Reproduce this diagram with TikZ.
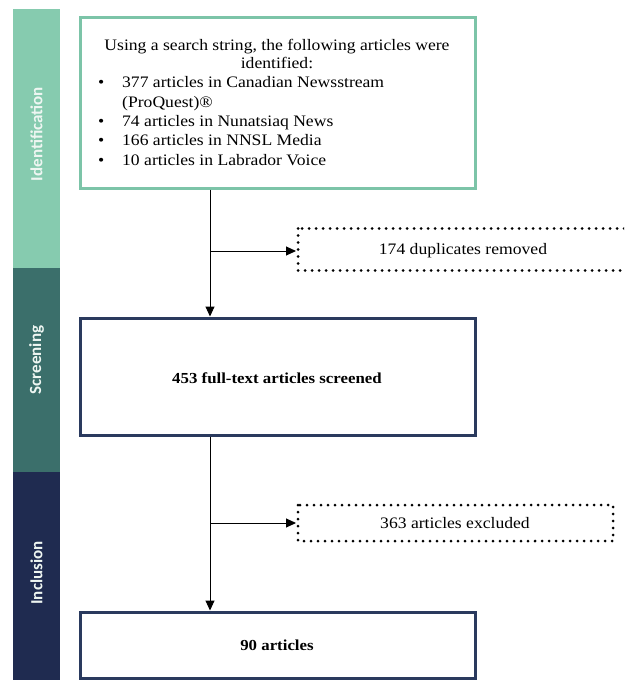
\documentclass[tikz,border=0pt]{standalone}
\usepackage{fontspec}
\setmainfont[FakeStretch=1.1]{Liberation Serif}
\newfontfamily\barfont{Carlito}
\usetikzlibrary{arrows.meta}
\definecolor{idgreen}{HTML}{86CBAF}
\definecolor{scteal}{HTML}{3B6F6B}
\definecolor{innavy}{HTML}{1F2B50}
\definecolor{boxgreen}{HTML}{7CC4A8}
\definecolor{boxnavy}{HTML}{2A3A5E}
\definecolor{labtext}{HTML}{EEF6F2}
\tikzset{
  barlabel/.style={rotate=90, text=labtext, font=\barfont\bfseries\fontsize{17}{19}\selectfont},
  mainbox/.style={draw, line width=3pt, fill=white},
  dotbox/.style={draw, line width=3pt, line cap=round, dash pattern=on 0pt off 7pt},
  conn/.style={line width=1pt, -{Triangle[length=10pt,width=9pt]}},
  txt/.style={font=\fontsize{16}{19.3}\selectfont, inner sep=0pt},
  boldtxt/.style={font=\bfseries\fontsize{15.3}{18}\selectfont, inner sep=0pt}
}
\begin{document}
\begin{tikzpicture}[x=1pt,y=-1pt]
\useasboundingbox (0,0) rectangle (624,680);
\clip (0,0) rectangle (624,680);
% side bars
\fill[idgreen] (13,9) rectangle (60,268);
\fill[scteal] (13,268) rectangle (60,472);
\fill[innavy] (13,472) rectangle (60,682);
\node[barlabel] (lid) at (36.5,134) {Identification};
\node[barlabel] (lsc) at (36.5,360) {Screening};
\node[barlabel] (lin) at (36.5,573) {Inclusion};
% main box 1
\draw[mainbox, draw=boxgreen] (80,17) rectangle (475,188);
\node[txt, align=center, anchor=base] (hdr) at (277,68) {Using a search string, the following articles were\\[-1.3pt] identified:};
\node[txt, align=left, anchor=base west] (lst) at (98,165) {%
\makebox[24pt][l]{\textbullet}377 articles in Canadian Newsstream\\
\hspace*{24pt}(ProQuest)®\\
\makebox[24pt][l]{\textbullet}74 articles in Nunatsiaq News\\
\makebox[24pt][l]{\textbullet}166 articles in NNSL Media\\
\makebox[24pt][l]{\textbullet}10 articles in Labrador Voice};
\coordinate (b1s) at (210,189.5);
% main box 2
\draw[mainbox, draw=boxnavy] (80,318) rectangle (475,435);
\node[boldtxt] (b2) at (277,378) {453 full-text articles screened};
\coordinate (b2n) at (210,316.5);
\coordinate (b2s) at (210,436.5);
% main box 3
\draw[mainbox, draw=boxnavy] (80,612) rectangle (475,678);
\node[boldtxt] (b3) at (277,645) {90 articles};
\coordinate (b3n) at (210,610.5);
% dotted boxes
\draw[dotbox] (298,228.5) rectangle (650,270.5);
\node[txt] (d1) at (463,251) {174 duplicates removed};
\coordinate (d1w) at (296,251);
\draw[dotbox] (298,505) rectangle (613,541);
\node[txt] (d2) at (455,523) {363 articles excluded};
\coordinate (d2w) at (296,523);
% connectors
\draw[conn] (b1s) -- (b2n);
\coordinate (j1) at (210,251);
\draw[conn] (j1) -- (d1w);
\draw[conn] (b2s) -- (b3n);
\coordinate (j2) at (210,523);
\draw[conn] (j2) -- (d2w);
\end{tikzpicture}
\end{document}
